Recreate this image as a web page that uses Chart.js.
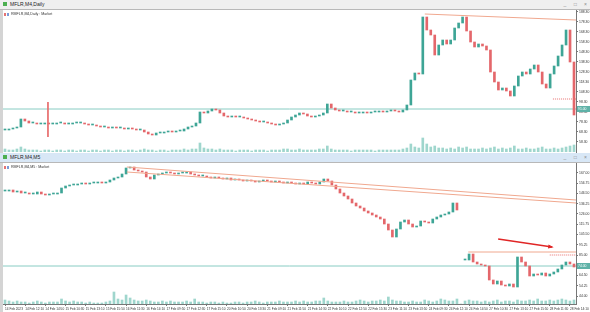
<!DOCTYPE html>
<html>
<head>
<meta charset="utf-8">
<script src="https://cdn.jsdelivr.net/npm/chart.js@4.4.1/dist/chart.umd.min.js"></script>
<style>
  body { margin: 0; width: 590px; height: 312px; overflow: hidden; background: #fff; position: relative; font-family: "Liberation Sans", Arial, sans-serif; }
  .titlebar { position: absolute; left: 0; width: 590px; height: 10px; font-size: 5px; line-height: 9px; color: #222; border-bottom: 1px solid #b8b8b8; box-sizing: border-box; }
  .titlebar .ico { position: absolute; left: 3px; top: 2px; width: 4px; height: 4px; background: #4caf50; }
  .titlebar .name { position: absolute; left: 10px; top: 0; }
  .titlebar .btns { position: absolute; right: 3px; top: 0; color: #8a8a8a; word-spacing: 6px; }
  .side { position: absolute; left: 0; width: 3px; background: #d4d4d4; }
  .box { position: absolute; left: 3px; width: 587px; }
  .sub { position: absolute; left: 4px; font-size: 3.6px; color: #333; white-space: nowrap; }
  .sub i { display: inline-block; width: 2px; height: 3px; margin-right: 1px; vertical-align: middle; }
</style>
</head>
<body>
<div class="titlebar" style="top:0;background:#efefef"><span class="ico"></span><span class="name">MFLR,M4,Daily</span><span class="btns">_ □ ×</span></div>
<div class="side" style="top:10px;height:143px"></div>
<div class="box" style="top:10px;height:143px"><canvas id="topChart"></canvas></div>
<div class="sub" style="top:12px"><i style="background:#e57373"></i><i style="background:#7a9ad8"></i> RMFLR,M4,Daily : Market</div>

<div class="titlebar" style="top:153px;background:#d8e7f6"><span class="ico"></span><span class="name">MFLR,M4,M5</span><span class="btns">_ □ ×</span></div>
<div class="side" style="top:163px;height:149px"></div>
<div class="box" style="top:163px;height:149px"><canvas id="bottomChart"></canvas></div>
<div class="sub" style="top:165px"><i style="background:#e57373"></i><i style="background:#7a9ad8"></i> RMFLR,M4,M5 : Market</div>

<script>
// daily chart (top window)
const topClose = [
  70, 71, 72, 73, 81, 79, 77, 77, 76, 76,
  77, 76, 76, 77, 77, 76, 76, 77, 77, 77,
  76, 75, 75, 74, 73, 73, 72, 73, 72, 72,
  71, 72, 71, 70, 70, 68, 66, 65, 67, 67,
  68, 69, 68, 69, 69, 71, 73, 74, 77, 88,
  87, 89, 91, 90, 87, 84, 83, 84, 83, 83,
  82, 81, 80, 79, 78, 78, 77, 76, 75, 76,
  77, 80, 83, 85, 87, 86, 84, 83, 84, 85,
  87, 96, 92, 90, 89, 89, 88, 88, 87, 87,
  88, 87, 88, 88, 89, 88, 89, 90, 89, 88,
  90, 95, 120, 127, 126, 183, 170, 165, 145, 155,
  160, 156, 160, 172, 177, 183, 169, 158, 153, 156,
  154, 150, 128, 118, 110, 112, 109, 104, 114, 124,
  128, 126, 131, 135, 128, 116, 112, 126, 134, 144,
  155, 170, 138, 85
];
const topVolume = [
  3, 2, 2, 3, 5, 3, 2, 2, 2, 1,
  2, 2, 1, 2, 2, 1, 2, 2, 1, 2,
  2, 1, 2, 2, 1, 2, 2, 1, 2, 2,
  1, 2, 2, 1, 2, 3, 2, 2, 1, 2,
  2, 1, 2, 2, 2, 3, 2, 3, 3, 9,
  4, 3, 3, 2, 3, 2, 2, 2, 1, 2,
  2, 2, 1, 2, 2, 2, 1, 2, 2, 2,
  3, 3, 2, 2, 3, 2, 2, 2, 2, 3,
  3, 6, 3, 2, 2, 2, 2, 1, 2, 2,
  2, 2, 2, 1, 2, 2, 2, 2, 2, 2,
  3, 4, 8, 5, 4, 14, 8, 5, 6, 4,
  4, 3, 4, 3, 5, 4, 5, 3, 3, 3,
  4, 3, 4, 5, 3, 4, 3, 4, 6, 3,
  3, 4, 3, 3, 4, 5, 3, 3, 4, 3,
  4, 5, 6, 7
];
const topTicks = [188.3, 178.3, 168.3, 158.3, 148.3, 138.3, 128.3, 118.3, 108.3, 98.3, 88.3, 78.3, 68.3, 58.3];
const topLastPrice = 91;
const topTrend = [[105.5, 186], [143.5, 180]];
const topMarker = [[10.8, 98], [10.8, 63]];
const topStop = [[137.7, 101], [143.5, 101]];

// M5 chart (bottom window)
const bottomClose = [
  149, 150, 148, 149, 147, 147, 146, 146, 148, 146,
  145, 146, 146, 147, 152, 154, 155, 155, 156, 157,
  156, 157, 157, 158, 157, 158, 160, 162, 163, 166,
  172, 173, 170, 169, 168, 163, 161, 165, 166, 167,
  168, 167, 166, 167, 167, 168, 166, 165, 164, 164,
  163, 162, 163, 162, 161, 162, 160, 161, 160, 159,
  160, 159, 158, 159, 160, 159, 158, 159, 158, 157,
  158, 157, 156, 157, 156, 158, 157, 156, 158, 161,
  159, 155, 151, 147, 144, 141, 137, 134, 132, 129,
  127, 125, 123, 121, 116, 110, 103, 111, 118, 120,
  116, 113, 114, 119, 118, 117, 121, 123, 125, 126,
  128, 137, 130, null, 80, 86, 78, 76, 75, 74,
  60, 56, 59, 55, 54, 56, 53, 83, 78, 74,
  64, 66, 65, 67, 64, 66, 68, 71, 75, 78,
  76, 73
];
const bottomVolume = [
  4, 3, 2, 3, 2, 2, 1, 2, 3, 2,
  1, 2, 2, 2, 5, 3, 2, 3, 2, 2,
  1, 2, 1, 1, 1, 2, 3, 12, 5, 4,
  9, 6, 4, 3, 3, 4, 3, 2, 2, 3,
  2, 3, 2, 2, 2, 3, 2, 5, 2, 2,
  1, 2, 2, 1, 2, 1, 1, 2, 2, 1,
  2, 2, 3, 2, 1, 2, 2, 2, 3, 2,
  2, 2, 3, 2, 3, 2, 2, 3, 3, 6,
  3, 2, 2, 2, 3, 2, 2, 3, 4, 3,
  2, 3, 3, 4, 3, 7, 4, 3, 3, 2,
  2, 3, 2, 2, 4, 3, 2, 3, 5, 4,
  3, 3, 5, 0, 3, 4, 3, 3, 2, 3,
  2, 3, 4, 2, 3, 3, 2, 4, 3, 3,
  4, 3, 5, 3, 3, 4, 3, 4, 5, 4,
  3, 4
];
const bottomTicks = [167, 156.75, 146.5, 136.25, 126, 115.75, 105.5, 95.25, 85, 74.75, 64.5, 54.25, 44];
const bottomTimes = [
  "14 Feb 2023", "14 Feb 12:10", "14 Feb 14:50", "15 Feb 10:30", "15 Feb 13:10", "15 Feb 15:50",
  "16 Feb 11:30", "16 Feb 14:10", "17 Feb 09:50", "17 Feb 12:30", "17 Feb 15:10", "20 Feb 10:50",
  "20 Feb 13:30", "21 Feb 09:10", "21 Feb 11:50", "21 Feb 14:30", "22 Feb 10:10", "22 Feb 12:50",
  "22 Feb 15:30", "23 Feb 11:10", "23 Feb 13:50", "24 Feb 09:30", "24 Feb 12:10", "24 Feb 14:50",
  "27 Feb 10:30", "27 Feb 13:10", "27 Feb 15:50", "28 Feb 11:30", "28 Feb 14:10"
];
const bottomLastPrice = 74;
const bottomTrendA = [[30.2, 173], [141.5, 140]];
const bottomTrendB = [[30.2, 168], [141.5, 137]];
const bottomLevel = [[114.8, 88], [141.5, 88]];
const bottomStop = [[135, 85], [141.5, 85]];
const arrowFrom = [122.2, 101];
const arrowTo = [135.6, 93];

const UP = "#3ea596";
const DOWN = "#e4676b";
const VOL = "#9fd6cd";
const TEAL_LINE = "#88ccc3";
const ORANGE = "#f0a88f";
const FONT = { size: 3.4, family: "Liberation Sans" };

function candles(closes) {
  const bodies = [];
  const colors = [];
  closes.forEach((c, i) => {
    if (c === null) return;
    const o = i > 0 && closes[i - 1] !== null ? closes[i - 1] : c;
    bodies.push({ x: i, y: [o, c] });
    colors.push(c >= o ? UP : DOWN);
  });
  return { bodies, colors };
}

const pts = (arr) => arr.map(([x, y]) => ({ x, y }));

function line(data, color, extra) {
  return Object.assign({ type: "line", data: pts(data), borderColor: color, borderWidth: 1, pointRadius: 0, order: 0 }, extra || {});
}

function priceBox(value) {
  return {
    id: "priceBox",
    afterDraw(chart) {
      const { ctx, chartArea, scales } = chart;
      const py = scales.y.getPixelForValue(value);
      ctx.save();
      ctx.fillStyle = "#5fb2a8";
      ctx.fillRect(chartArea.right + 1, py - 3, 13, 6);
      ctx.fillStyle = "#fff";
      ctx.font = "3.4px 'Liberation Sans'";
      ctx.textBaseline = "middle";
      ctx.fillText(value.toFixed(2), chartArea.right + 2, py);
      ctx.restore();
    },
  };
}

const arrowHead = {
  id: "arrowHead",
  afterDatasetsDraw(chart) {
    const { ctx, scales } = chart;
    const x1 = scales.x.getPixelForValue(arrowFrom[0]);
    const y1 = scales.y.getPixelForValue(arrowFrom[1]);
    const x2 = scales.x.getPixelForValue(arrowTo[0]);
    const y2 = scales.y.getPixelForValue(arrowTo[1]);
    const a = Math.atan2(y2 - y1, x2 - x1);
    ctx.save();
    ctx.fillStyle = "#e02626";
    ctx.beginPath();
    ctx.moveTo(x2 + 1.5 * Math.cos(a), y2 + 1.5 * Math.sin(a));
    ctx.lineTo(x2 - 4 * Math.cos(a) + 2 * Math.sin(a), y2 - 4 * Math.sin(a) - 2 * Math.cos(a));
    ctx.lineTo(x2 - 4 * Math.cos(a) - 2 * Math.sin(a), y2 - 4 * Math.sin(a) + 2 * Math.cos(a));
    ctx.closePath();
    ctx.fill();
    ctx.restore();
  },
};

function yAxis(min, max, ticks) {
  return {
    position: "right",
    min: min,
    max: max,
    afterBuildTicks: (s) => { s.ticks = ticks.map((v) => ({ value: v })); },
    afterFit: (s) => { s.width = 14; s.paddingTop = 0; s.paddingBottom = 0; },
    ticks: { font: FONT, color: "#333", padding: 1, callback: (v) => v.toFixed(2) },
    grid: { drawOnChartArea: false, tickLength: 2, color: "#777" },
    border: { color: "#777" },
  };
}

// top chart
const topCandles = candles(topClose);
new Chart(document.getElementById("topChart"), {
  type: "bar",
  data: {
    datasets: [
      line([[-0.5, topLastPrice], [143.5, topLastPrice]], TEAL_LINE, { order: 3 }),
      line(topTrend, ORANGE),
      line(topMarker, "#e87070"),
      line(topStop, "#e87070", { borderDash: [1, 1] }),
      { data: topCandles.bodies, backgroundColor: topCandles.colors, barThickness: 2, minBarLength: 1, grouped: false, order: 1 },
      { data: topVolume.map((v, i) => ({ x: i, y: v })), yAxisID: "yv", backgroundColor: VOL, barThickness: 2, grouped: false, order: 2 },
    ],
  },
  options: {
    responsive: true,
    maintainAspectRatio: false,
    animation: false,
    layout: { padding: { top: 0, bottom: 1, left: 0, right: 0 } },
    plugins: { legend: { display: false }, tooltip: { enabled: false } },
    scales: {
      x: { type: "linear", offset: false, grid: { offset: false }, min: -0.5, max: 143.5, display: false },
      y: yAxis(48, 190, topTicks),
      yv: { display: false, min: 0, max: 142 },
    },
  },
  plugins: [priceBox(topLastPrice)],
});

// bottom chart
const bottomCandles = candles(bottomClose);
new Chart(document.getElementById("bottomChart"), {
  type: "bar",
  data: {
    datasets: [
      line([[-0.5, bottomLastPrice], [141.5, bottomLastPrice]], TEAL_LINE, { order: 3 }),
      line(bottomTrendA, ORANGE),
      line(bottomTrendB, ORANGE),
      line(bottomLevel, ORANGE),
      line(bottomStop, "#e87070", { borderDash: [1, 1] }),
      line([arrowFrom, arrowTo], "#e02626", { borderWidth: 1.5 }),
      { data: bottomCandles.bodies, backgroundColor: bottomCandles.colors, barThickness: 2, minBarLength: 1, grouped: false, order: 1 },
      { data: bottomVolume.map((v, i) => ({ x: i, y: v })), yAxisID: "yv", backgroundColor: VOL, barThickness: 2, grouped: false, order: 2 },
    ],
  },
  options: {
    responsive: true,
    maintainAspectRatio: false,
    animation: false,
    layout: { padding: 0 },
    plugins: { legend: { display: false }, tooltip: { enabled: false } },
    scales: {
      x: {
        type: "linear",
        offset: false,
        min: -0.5,
        max: 141.5,
        afterBuildTicks: (s) => { s.ticks = bottomTimes.map((t, k) => ({ value: k * 5 })); },
        afterFit: (s) => { s.height = 8; s.paddingLeft = 0; s.paddingRight = 0; },
        ticks: { autoSkip: false, maxRotation: 0, align: "start", padding: 1, font: { size: 3.2, family: "Liberation Sans" }, color: "#333", callback: (v) => bottomTimes[v / 5] },
        grid: { offset: false, drawOnChartArea: false, tickLength: 2, color: "#777" },
        border: { color: "#777" },
      },
      y: yAxis(36, 177, bottomTicks),
      yv: { display: false, min: 0, max: 141 },
    },
  },
  plugins: [priceBox(bottomLastPrice), arrowHead],
});
</script>
</body>
</html>
